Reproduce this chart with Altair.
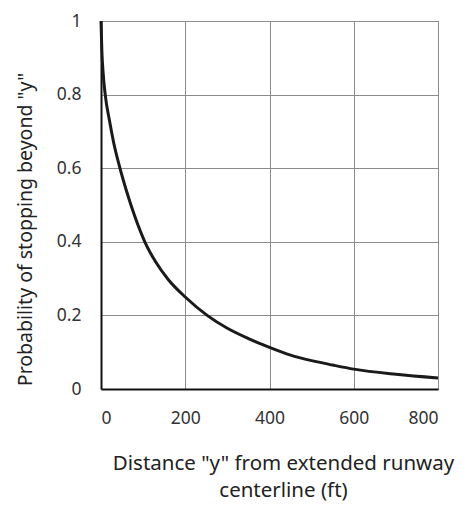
import altair as alt
import pandas as pd

dist = [0, 2, 5, 10, 20, 30, 45, 60, 80, 104, 130, 160, 200, 252, 300, 350, 400, 450, 500, 550, 600, 700, 800]
prob = [1.0, 0.92, 0.86, 0.80, 0.73, 0.67, 0.60, 0.54, 0.47, 0.40, 0.345, 0.297, 0.25, 0.20, 0.165, 0.137, 0.113, 0.092, 0.077, 0.065, 0.054, 0.040, 0.030]
x_ticks = [0, 200, 400, 600, 800]
y_ticks = [0, 0.2, 0.4, 0.6, 0.8, 1]

df = pd.DataFrame({"d": dist, "p": prob})

FONT = "Noto Sans"
chart = alt.Chart(df).mark_line(color="#1a1a1a", strokeWidth=3, interpolate="monotone").encode(
    x=alt.X("d:Q", scale=alt.Scale(domain=[0, 800], nice=False),
            axis=alt.Axis(values=x_ticks, ticks=False, labelOverlap=False,
                          domainColor="#111", domainWidth=2,
                          gridColor="#8c8c8c", gridWidth=1,
                          labelFont=FONT, labelFontSize=17.5, labelColor="#333", labelPadding=20,
                          title=['Distance "y" from extended runway', 'centerline (ft)'],
                          titleFont=FONT, titleFontSize=20.5, titleFontWeight="normal", titleColor="#222",
                          titleX=182, titleY=80, titleLineHeight=27, titleBaseline="alphabetic")),
    y=alt.Y("p:Q", scale=alt.Scale(domain=[0, 1], nice=False),
            axis=alt.Axis(values=y_ticks, ticks=False, labelOverlap=False, format="~g",
                          domainColor="#111", domainWidth=2,
                          gridColor="#8c8c8c", gridWidth=1,
                          labelFont=FONT, labelFontSize=17.5, labelColor="#333", labelPadding=20,
                          title='Probability of stopping beyond "y"',
                          titleFont=FONT, titleFontSize=19.5, titleFontWeight="normal", titleColor="#222",
                          titleX=-70, titleY=208, titleBaseline="alphabetic")),
).properties(
    width=337, height=368,
    autosize=alt.AutoSizeParams(type="none"),
    padding={"left": 93, "top": 13, "right": 22, "bottom": 112},
).configure_view(stroke="#8c8c8c", strokeWidth=1)

chart.save("out.html", embed_options={"renderer": "svg", "actions": False})
